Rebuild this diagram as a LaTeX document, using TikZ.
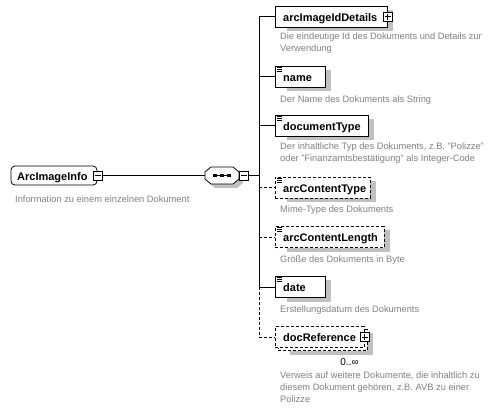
\documentclass[tikz,border=0pt]{standalone}
\usepackage{fontspec}
\setmainfont{Liberation Sans}
\pgfdeclarelayer{background}
\pgfsetlayers{background,main}
\definecolor{desccol}{RGB}{128,128,128}
\definecolor{shadowcol}{RGB}{192,192,192}
\tikzset{
  conn/.style={line width=0.8pt},
  optconn/.style={conn, dash pattern=on 3pt off 2pt},
  elembox/.style={draw, fill=white, line width=0.8pt, minimum height=21pt, inner sep=0pt, anchor=west},
  optbox/.style={elembox, dash pattern=on 3pt off 2pt},
  rootbox/.style={draw, fill=white, line width=0.8pt, rounded corners=4pt, inner sep=0pt, minimum width=86pt, minimum height=19pt},
  compframe/.style={minimum width=34pt, minimum height=17pt, inner sep=0pt},
  compoutline/.style={draw, fill=white, line width=0.8pt},
  lbl/.style={font=\bfseries\fontsize{11}{13}\selectfont, inner sep=0pt, anchor=base west},
  desc/.style={font=\fontsize{9.3}{12}\selectfont, text=desccol, inner sep=0pt, anchor=base west},
  mult/.style={font=\fontsize{10}{12}\selectfont, inner sep=0pt, anchor=base},
  togglebox/.style={draw, fill=white, line width=0.8pt, minimum size=9pt, inner sep=0pt},
  collapsebox/.style={togglebox, path picture={\draw[line width=0.8pt] ([xshift=1.5pt]path picture bounding box.west) -- ([xshift=-1.5pt]path picture bounding box.east);}},
  expandbox/.style={togglebox, path picture={\draw[line width=0.8pt] ([xshift=1.5pt]path picture bounding box.west) -- ([xshift=-1.5pt]path picture bounding box.east); \draw[line width=0.8pt] ([yshift=1.5pt]path picture bounding box.south) -- ([yshift=-1.5pt]path picture bounding box.north);}},
  simplemark/.style={line width=0.6pt}
}
\newcommand\xelem[5]{%
  \node[#2, minimum width=#4pt] (#1) at (275,#3) {};
  \node[lbl] (#1-l) at ([xshift=8pt,yshift=-4.5pt]#1.west) {#5};
}
\newcommand\simpleicon[1]{%
  \foreach \k in {1.5,3.5,5.5} \draw[simplemark] ([xshift=2pt,yshift=-\k pt]#1.north west) -- ++(5pt,0pt);
}
\newcommand\shadowof[1]{%
  \begin{pgfonlayer}{background}
    \fill[shadowcol] ([xshift=12pt,yshift=-4pt]#1.north west) rectangle ([xshift=5pt,yshift=-4pt]#1.south east);
  \end{pgfonlayer}
}
\newcommand\octa[2]{% #1 style, #2 centre
  \path[#1] (#2) +(-11,-8.5) -- +(11,-8.5) -- +(17,-3.5) -- +(17,3.5) -- +(11,8.5) -- +(-11,8.5) -- +(-17,3.5) -- +(-17,-3.5) -- cycle;
}
\begin{document}
\begin{tikzpicture}[x=1pt,y=-1pt]
\useasboundingbox (0,0) rectangle (498,408);

% root element
\node[rootbox] (root) at (54,175.5) {};
\node[lbl] (rootl) at (17,180) {ArcImageInfo};
\node[collapsebox] (rootm) at (97.5,175.5) {};
\node[desc] (rootd) at (15,202) {Information zu einem einzelnen Dokument};

% sequence compositor
\node[compframe] (seq) at (222,175.5) {};
\octa{fill=shadowcol}{226,179.5}
\octa{compoutline}{seq.center}
\draw[conn] ([xshift=-8pt]seq.center) -- ([xshift=8pt]seq.center);
\foreach \dx in {-7,0,7} \fill ([xshift=\dx pt]seq.center) +(-1.6pt,-1.6pt) rectangle +(1.6pt,1.6pt);
\node[collapsebox] (seqm) at (243.5,175.5) {};
\draw[conn] (rootm.east) -- (seq.west);
\coordinate (vb) at (259,175.5);
\draw[conn] (seqm.east) -- (vb);

% children
\xelem{aid}{elembox}{16.5}{112}{arcImageIdDetails}
\shadowof{aid}
\node[expandbox] (aidp) at (aid.east) {};
\node[desc] (aidd1) at (280,39) {Die eindeutige Id des Dokuments und Details zur};
\node[desc] (aidd2) at (280,51) {Verwendung};

\xelem{nm}{elembox}{76.5}{50}{name}
\shadowof{nm}
\simpleicon{nm}
\node[desc] (nmd) at (280,102) {Der Name des Dokuments als String};

\xelem{dt}{elembox}{125.5}{93}{documentType}
\shadowof{dt}
\simpleicon{dt}
\node[desc] (dtd1) at (280,149) {Der inhaltliche Typ des Dokuments, z.B. "Polizze"};
\node[desc] (dtd2) at (280,161) {oder "Finanzamtsbestätigung" als Integer-Code};

\xelem{ct}{optbox}{187.5}{95}{arcContentType}
\shadowof{ct}
\simpleicon{ct}
\node[desc] (ctd) at (280,212) {Mime-Type des Dokuments};

\xelem{cl}{optbox}{237}{109}{arcContentLength}
\shadowof{cl}
\simpleicon{cl}
\node[desc] (cld) at (280,262.5) {Größe des Dokuments in Byte};

\xelem{dte}{elembox}{287}{50}{date}
\shadowof{dte}
\simpleicon{dte}
\node[desc] (dted) at (280,312.5) {Erstellungsdatum des Dokuments};

\node[optbox, minimum width=89pt] (drb) at (278,340) {};
\shadowof{drb}
\xelem{dr}{optbox}{337}{89}{docReference}
\node[expandbox] (drp) at (dr.east) {};
\node[mult] (drm) at (349.5,365) {0..∞};
\node[desc] (drd1) at (280,378) {Verweis auf weitere Dokumente, die inhaltlich zu};
\node[desc] (drd2) at (280,390) {diesem Dokument gehören, z.B. AVB zu einer};
\node[desc] (drd3) at (280,402) {Polizze};

% connectors
\draw[conn] (vb |- aid.west) -- (vb |- dte.west);
\draw[optconn] (vb |- dte.west) -- (vb |- dr.west);
\draw[conn] (vb |- aid.west) -- (aid.west);
\draw[conn] (vb |- nm.west) -- (nm.west);
\draw[conn] (vb |- dt.west) -- (dt.west);
\draw[optconn] (vb |- ct.west) -- (ct.west);
\draw[optconn] (vb |- cl.west) -- (cl.west);
\draw[conn] (vb |- dte.west) -- (dte.west);
\draw[optconn] (vb |- dr.west) -- (dr.west);
\end{tikzpicture}
\end{document}
